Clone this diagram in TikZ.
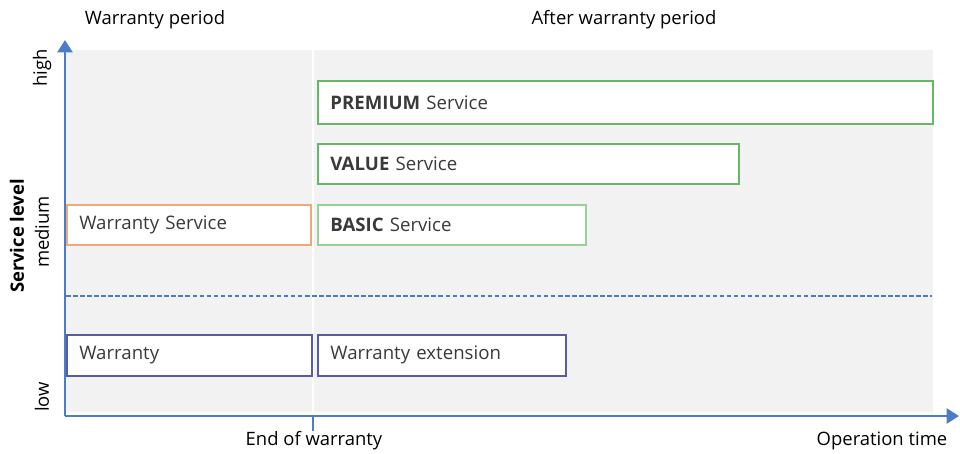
\documentclass[tikz,border=0pt]{standalone}
\usepackage{fontspec}
\setmainfont{Open Sans}
\usepackage{xcolor}
\usetikzlibrary{arrows.meta}

\definecolor{axisblue}{HTML}{4A7CC8}
\definecolor{bggray}{HTML}{F2F2F2}
\definecolor{svcgreen}{HTML}{66B866}
\definecolor{basicgreen}{HTML}{98D098}
\definecolor{wsorange}{HTML}{F4A878}
\definecolor{warpurple}{HTML}{5A5AA8}
\definecolor{txtgray}{HTML}{3A3A3A}

\tikzset{
  band/.style={draw, fill=white, line width=1pt, anchor=north west,
    inner xsep=0.25cm, inner ysep=0pt, minimum height=0.8cm,
    align=left, text=txtgray, font=\fontsize{10.6}{12}\selectfont},
  axis/.style={line width=1.4pt, axisblue, -{Triangle[length=7pt,width=8.5pt]}},
  lvl/.style={rotate=90, font=\fontsize{10.5}{12}\selectfont},
  period/.style={font=\fontsize{10.5}{12}\selectfont}
}

\begin{document}
\begin{tikzpicture}[x=0.02cm, y=-0.02cm]
\useasboundingbox (0,0) rectangle (960,453);
% background
\fill[bggray] (66,50) rectangle (933,412);
\draw[white, line width=1.2pt] (313,50) -- (313,412);

\coordinate (origin) at (65,416);
\coordinate (ytop) at (65,40);
\coordinate (xend) at (959,416);
\coordinate (eow) at (313,416);
\coordinate (eowlow) at (313,431);

% axes
\draw[axis] (origin) -- (ytop);
\draw[axis] (origin) -- (xend);
\draw[line width=1.2pt, axisblue] (eow) -- (eowlow);

% threshold between warranty and services
\coordinate (dashl) at (66,296);
\coordinate (dashr) at (932,296);
\draw[axisblue, line width=1pt, dash pattern=on 2.6pt off 1.4pt] (dashl) -- (dashr);

% service bands
\node[band, draw=svcgreen, minimum width=12.3cm, minimum height=0.86cm, text width=11.8cm]
  (premium) at (317,80) {\textbf{PREMIUM} Service};
\node[band, draw=svcgreen, minimum width=8.42cm, text width=7.92cm]
  (value) at (317,143) {\textbf{VALUE} Service};
\node[band, draw=basicgreen, minimum width=5.36cm, text width=4.86cm]
  (basic) at (317,204) {\textbf{BASIC} Service};
\node[band, draw=wsorange, minimum width=4.88cm, text width=4.38cm]
  (wservice) at (66,204) {Warranty Service};
\node[band, draw=warpurple, minimum width=4.9cm, minimum height=0.82cm, text width=4.4cm]
  (warranty) at (66,334) {Warranty};
\node[band, draw=warpurple, minimum width=4.96cm, minimum height=0.82cm, text width=4.46cm]
  (wext) at (317,334) {Warranty extension};

% axis labels
\node[lvl] (high) at (42,68) {high};
\node[lvl] (medium) at (42,232) {medium};
\node[lvl] (low) at (42,397) {low};
\node[lvl, font=\fontsize{10.5}{12}\selectfont\bfseries] (slevel) at (17,236) {Service level};
\node[period] (wperiod) at (155,20) {Warranty period};
\node[period] (aperiod) at (624,20) {After warranty period};
\node[period] (eowlabel) at (314,441) {End of warranty};
\node[period] (optime) at (882,441) {Operation time};
\end{tikzpicture}
\end{document}
